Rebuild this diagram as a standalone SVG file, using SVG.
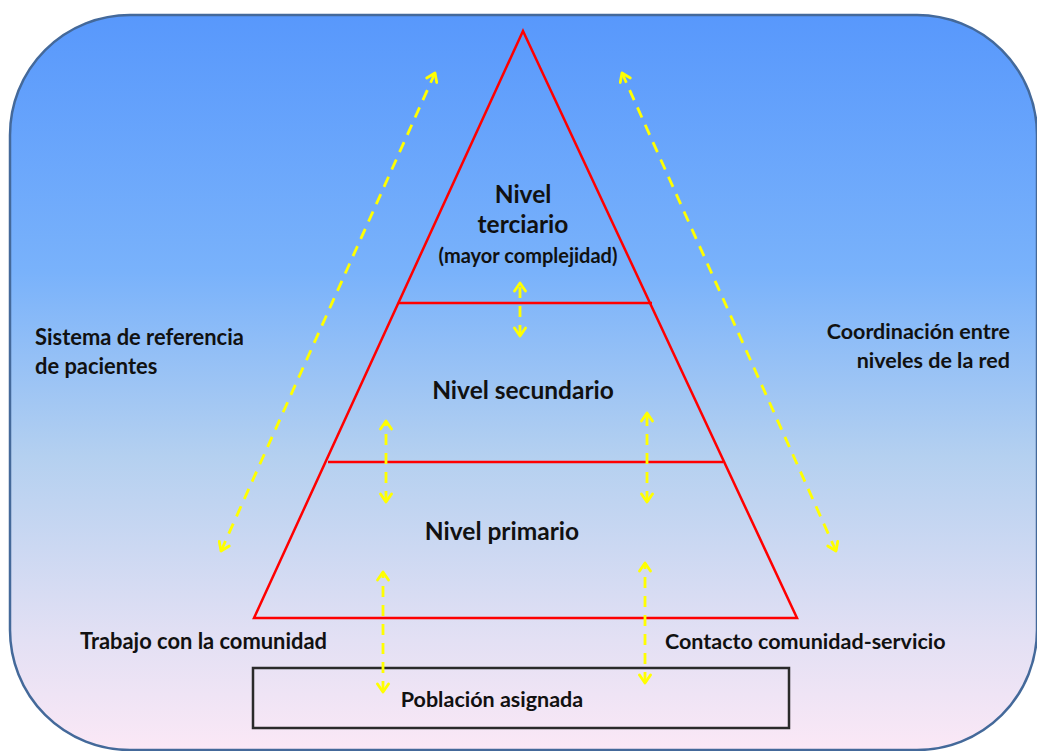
<svg xmlns="http://www.w3.org/2000/svg" width="1037" height="751" viewBox="0 0 1037 751">
  <defs>
    <linearGradient id="bg" x1="0" y1="0" x2="0" y2="1">
      <stop offset="0" stop-color="#5898fc"/>
      <stop offset="0.35" stop-color="#79b2fb"/>
      <stop offset="0.6" stop-color="#b4d0f0"/>
      <stop offset="0.85" stop-color="#e3e0f4"/>
      <stop offset="1" stop-color="#fbe8f6"/>
    </linearGradient>
    <marker id="chev" viewBox="0 0 14 14" refX="11" refY="7" markerWidth="14" markerHeight="14" markerUnits="userSpaceOnUse" orient="auto-start-reverse">
      <path d="M3,1.5 L11,7 L3,12.5" fill="none" stroke="#ffff00" stroke-width="2.8" stroke-linecap="round" stroke-linejoin="round"/>
    </marker>
  </defs>
  <style>
    .frame { fill: url(#bg); stroke: #44699a; stroke-width: 2.5; }
    .tri { fill: none; stroke: #ff0000; stroke-width: 2.5; stroke-linejoin: miter; }
    .box { fill: none; stroke: #2a2a2a; stroke-width: 2.5; }
    .t { font-family: Lato, "Open Sans", "Liberation Sans", sans-serif; font-weight: bold; font-size: 21.5px; fill: #111; }
    .lv { font-size: 24.5px; }
    .sub { font-size: 20px; }
    .wide { font-size: 21.9px; }
    .c { text-anchor: middle; }
    .r { text-anchor: end; }
    .link { fill: none; stroke: #ffff00; stroke-width: 2.8; stroke-dasharray: 11 8; marker-start: url(#chev); marker-end: url(#chev); }
  </style>

  <rect class="frame" x="10" y="15" width="1027" height="735" rx="120" ry="120"/>

  <g id="pyramid">
    <path class="tri" d="M523,31 L797,618 L254,618 Z"/>
    <line class="tri" x1="398" y1="303" x2="652" y2="303"/>
    <line class="tri" x1="328" y1="462" x2="723" y2="462"/>
  </g>

  <g id="nivel-terciario">
    <text class="t lv c" x="523" y="203">Nivel</text>
    <text class="t lv c" x="523" y="233">terciario</text>
    <text class="t sub c" x="528" y="263">(mayor complejidad)</text>
  </g>
  <g id="nivel-secundario">
    <text class="t lv c" x="523" y="399">Nivel secundario</text>
  </g>
  <g id="nivel-primario">
    <text class="t lv c" x="502" y="540">Nivel primario</text>
  </g>
  <g id="poblacion">
    <rect class="box" x="253" y="668" width="536" height="60"/>
    <text class="t c" x="492" y="707">Población asignada</text>
  </g>
  <g id="referencia">
    <text class="t wide" x="35" y="345">Sistema de referencia</text>
    <text class="t wide" x="35" y="374">de pacientes</text>
  </g>
  <g id="coordinacion">
    <text class="t r" x="1010" y="339">Coordinación entre</text>
    <text class="t r" x="1010" y="368">niveles de la red</text>
  </g>
  <g id="trabajo">
    <text class="t wide" x="80" y="649">Trabajo con la comunidad</text>
  </g>
  <g id="contacto">
    <text class="t" x="665" y="649">Contacto comunidad-servicio</text>
  </g>

  <g id="connectors">
    <line class="link" x1="221" y1="551" x2="435" y2="73"/>
    <line class="link" x1="836" y1="551" x2="622" y2="73"/>
    <line class="link" x1="520" y1="336" x2="520" y2="283"/>
    <line class="link" x1="386" y1="502" x2="386" y2="421"/>
    <line class="link" x1="647" y1="502" x2="647" y2="413"/>
    <line class="link" x1="383" y1="692" x2="383" y2="572"/>
    <line class="link" x1="645" y1="683" x2="645" y2="563"/>
  </g>
</svg>
